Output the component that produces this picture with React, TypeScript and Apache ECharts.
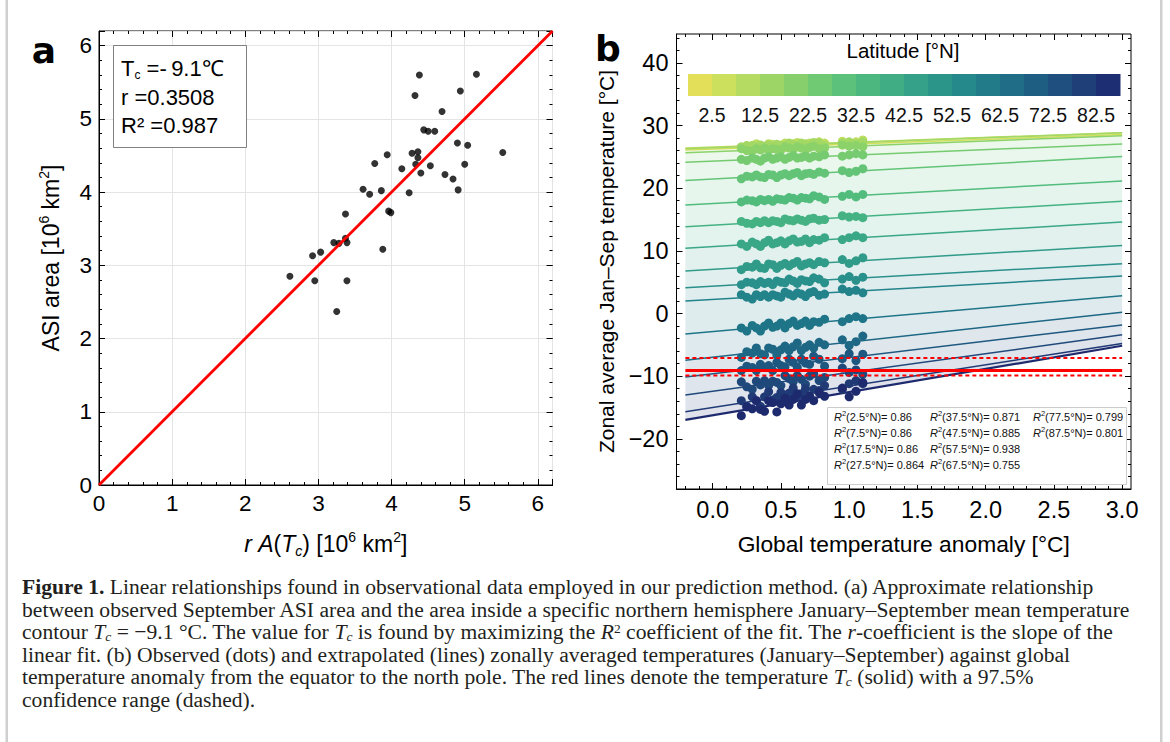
import React, { useEffect, useRef } from "react";
import * as echarts from "echarts";

// ---------- Panel a data ----------
const asiX = [2.61, 2.95, 2.92, 3.03, 3.25, 3.21, 3.28, 3.37, 3.39, 3.39, 3.37, 3.61, 3.70, 3.86, 3.77, 3.94, 3.96, 3.99, 3.88, 4.14, 4.24, 4.28, 4.36, 4.36, 4.33, 4.40, 4.53, 4.32, 4.38, 4.44, 4.50, 4.59, 4.69, 4.94, 5.16, 4.90, 5.04, 5.00, 4.73, 4.84, 4.91, 5.52];
const asiY = [2.85, 2.79, 3.13, 3.18, 2.37, 3.31, 3.30, 3.37, 3.31, 2.79, 3.70, 4.04, 3.97, 4.02, 4.39, 4.51, 3.74, 3.72, 3.22, 4.32, 3.99, 4.53, 4.55, 4.47, 4.38, 4.26, 4.36, 5.32, 5.60, 4.85, 4.83, 4.83, 5.10, 5.38, 5.61, 4.67, 4.64, 4.38, 4.24, 4.18, 4.03, 4.54];
const fitAX = [0, 6.2];
const fitAY = [0, 6.2];

// ---------- Panel b data ----------
const latitudes = [2.5, 7.5, 12.5, 17.5, 22.5, 27.5, 32.5, 37.5, 42.5, 47.5, 52.5, 57.5, 62.5, 67.5, 72.5, 77.5, 82.5, 87.5];
const globalAnomaly = [0.21, 0.25, 0.29, 0.32, 0.35, 0.38, 0.41, 0.44, 0.47, 0.50, 0.53, 0.56, 0.59, 0.62, 0.65, 0.68, 0.71, 0.74, 0.78, 0.82, 0.95, 1.00, 1.05, 1.10];
const zonal02 = [26.5, 26.2, 26.7, 26.5, 26.2, 26.6, 26.9, 26.5, 26.6, 26.8, 26.5, 26.8, 27.0, 26.6, 26.8, 27.0, 26.6, 26.9, 26.9, 27.1, 26.9, 27.1, 27.3, 27.1];
const zonal07 = [26.5, 26.8, 26.8, 27.1, 26.7, 26.6, 27.1, 27.0, 26.6, 26.9, 27.2, 26.9, 27.1, 27.3, 26.9, 27.1, 27.2, 27.0, 27.4, 27.2, 27.5, 27.1, 27.4, 27.7];
const zonal12 = [26.6, 26.8, 26.8, 26.6, 26.9, 26.7, 26.9, 26.6, 27.0, 26.8, 26.8, 27.2, 27.0, 26.7, 27.2, 27.0, 26.9, 27.3, 27.2, 26.8, 27.2, 27.4, 27.1, 27.4];
const zonal17 = [26.3, 26.0, 25.9, 26.3, 26.1, 26.4, 26.1, 26.3, 26.2, 26.1, 26.6, 26.4, 26.2, 26.6, 26.4, 26.1, 26.5, 26.7, 26.3, 26.4, 26.9, 26.7, 26.8, 26.6];
const zonal22 = [24.6, 24.4, 24.8, 24.6, 24.3, 24.8, 25.0, 24.6, 24.8, 25.0, 24.6, 24.9, 25.2, 24.8, 24.9, 25.1, 24.8, 25.1, 25.0, 25.3, 25.1, 25.3, 25.5, 25.3];
const zonal27 = [21.5, 21.9, 21.8, 22.1, 21.8, 21.7, 22.2, 22.1, 21.7, 22.1, 22.3, 22.0, 22.3, 22.5, 22.0, 22.3, 22.4, 22.2, 22.6, 22.4, 22.8, 22.5, 22.7, 23.1];
const zonal32 = [17.8, 18.1, 18.0, 17.8, 18.2, 18.0, 18.2, 17.9, 18.3, 18.2, 18.1, 18.5, 18.4, 18.1, 18.5, 18.4, 18.3, 18.8, 18.6, 18.2, 18.7, 19.0, 18.6, 19.0];
const zonal37 = [14.7, 14.4, 14.3, 14.7, 14.5, 14.8, 14.5, 14.8, 14.7, 14.5, 15.1, 14.9, 14.8, 15.1, 14.9, 14.7, 15.1, 15.2, 14.9, 15.0, 15.6, 15.4, 15.5, 15.3];
const zonal42 = [11.1, 10.7, 11.4, 11.1, 10.7, 11.3, 11.7, 11.1, 11.3, 11.6, 11.1, 11.6, 11.9, 11.4, 11.5, 11.9, 11.3, 11.8, 11.7, 12.1, 11.8, 12.1, 12.4, 12.1];
const zonal47 = [7.0, 7.5, 7.4, 7.9, 7.3, 7.2, 7.9, 7.8, 7.2, 7.7, 8.0, 7.6, 8.0, 8.3, 7.6, 7.9, 8.1, 7.8, 8.3, 8.1, 8.6, 8.0, 8.4, 8.9];
const zonal52 = [4.6, 5.0, 4.9, 4.6, 5.1, 4.8, 5.0, 4.6, 5.2, 5.0, 4.9, 5.5, 5.2, 4.8, 5.4, 5.2, 5.1, 5.7, 5.5, 4.9, 5.5, 5.9, 5.3, 5.8];
const zonal57 = [3.0, 2.6, 2.3, 3.0, 2.7, 3.0, 2.6, 3.0, 2.8, 2.6, 3.4, 3.1, 2.8, 3.3, 3.1, 2.7, 3.3, 3.5, 2.9, 3.1, 3.9, 3.5, 3.7, 3.3];
const zonal62 = [-2.3, -2.8, -1.9, -2.3, -2.8, -2.0, -1.5, -2.2, -2.0, -1.5, -2.3, -1.6, -1.2, -1.9, -1.6, -1.2, -1.9, -1.3, -1.4, -0.9, -1.3, -0.8, -0.5, -0.8];
const zonal67 = [-7.0, -6.1, -6.3, -5.5, -6.4, -6.6, -5.5, -5.7, -6.6, -5.8, -5.2, -5.9, -5.3, -4.7, -5.9, -5.4, -5.0, -5.5, -4.6, -5.0, -4.2, -5.1, -4.5, -3.6];
const zonal72 = [-9.1, -8.4, -8.6, -9.1, -8.1, -8.6, -8.3, -9.1, -7.8, -8.3, -8.5, -7.3, -7.8, -8.6, -7.3, -7.9, -8.1, -6.8, -7.3, -8.4, -7.2, -6.4, -7.5, -6.5];
const zonal77 = [-10.9, -11.7, -12.1, -10.8, -11.4, -10.7, -11.5, -10.8, -11.0, -11.5, -9.9, -10.4, -10.9, -9.9, -10.5, -11.3, -10.0, -9.6, -10.7, -10.2, -8.7, -9.4, -9.0, -9.7];
const zonal82 = [-13.9, -14.8, -13.3, -13.9, -14.8, -13.3, -12.5, -13.8, -13.4, -12.6, -13.9, -12.7, -11.9, -13.2, -12.8, -12.0, -13.3, -12.1, -12.3, -11.5, -12.1, -11.2, -10.7, -11.2];
const zonal87 = [-16.3, -14.9, -15.2, -13.9, -15.3, -15.6, -13.9, -14.2, -15.7, -14.4, -13.5, -14.6, -13.7, -12.8, -14.6, -13.7, -13.2, -13.9, -12.6, -13.2, -11.9, -13.3, -12.4, -11.0];
const zonalTemps = [zonal02, zonal07, zonal12, zonal17, zonal22, zonal27, zonal32, zonal37, zonal42, zonal47, zonal52, zonal57, zonal62, zonal67, zonal72, zonal77, zonal82, zonal87];
const fitIntercept = [26.25, 26.55, 26.44, 25.83, 24.32, 21.46, 17.56, 14.10, 10.69, 7.05, 4.36, 2.25, -2.88, -6.98, -9.62, -12.40, -14.98, -16.24];
const fitSlope = [0.77, 0.77, 0.80, 0.85, 0.91, 1.20, 1.20, 1.27, 1.30, 1.27, 1.20, 1.25, 1.90, 2.40, 2.60, 3.00, 3.40, 3.70];
const fitDomain = [-0.2, 3.0];
const tcValue = -9.1;
const tcConfidence = [-7.1, -9.9];
const r2Latitudes = ["2.5", "7.5", "17.5", "27.5", "37.5", "47.5", "57.5", "67.5", "77.5", "87.5"];
const r2Values = ["0.86", "0.86", "0.86", "0.864", "0.871", "0.885", "0.938", "0.755", "0.799", "0.801"];

// ---------- Tick values ----------
const bXMajor = [0, 0.5, 1, 1.5, 2, 2.5, 3];
const bXMinor = [-0.2, -0.1, 0, 0.1, 0.2, 0.3, 0.4, 0.5, 0.6, 0.7, 0.8, 0.9, 1, 1.1, 1.2, 1.3, 1.4, 1.5, 1.6, 1.7, 1.8, 1.9, 2, 2.1, 2.2, 2.3, 2.4, 2.5, 2.6, 2.7, 2.8, 2.9, 3];
const bYMajor = [-20, -10, 0, 10, 20, 30, 40];
const bYMinor = [-28, -26, -24, -22, -20, -18, -16, -14, -12, -10, -8, -6, -4, -2, 0, 2, 4, 6, 8, 10, 12, 14, 16, 18, 20, 22, 24, 26, 28, 30, 32, 34, 36, 38, 40, 42, 44];
const cbCenters = [0, 5, 10, 15, 20, 25, 30, 35, 40, 45, 50, 55, 60, 65, 70, 75, 80, 85];
const cbTicks = [2.5, 12.5, 22.5, 32.5, 42.5, 52.5, 62.5, 72.5, 82.5];

// ---------- Colours ----------
const cbColors = ["#e3df58", "#cde05e", "#b5db62", "#9dd567", "#86cf6c", "#70c973", "#5cc17a", "#4cb880", "#40ad85", "#35a188", "#2c958a", "#25888a", "#217b89", "#1f6d87", "#1f5e83", "#1f4f7e", "#1f3f78", "#1e2e72"];
const latColors = ["#d2df5c", "#bcdd60", "#a3d865", "#8cd26a", "#76cb70", "#63c477", "#52bc7d", "#45b283", "#3aa787", "#319b89", "#29908b", "#23838a", "#1f7588", "#1e6785", "#1e5880", "#1f497b", "#1f3a75", "#1e2a6e"];

const FONT = "'Liberation Sans', Arial, Helvetica, sans-serif";
const SERIF = "'Liberation Serif', 'Times New Roman', serif";

function rgba(hex: string, a: number) {
  const n = parseInt(hex.slice(1), 16);
  return `rgba(${(n >> 16) & 255},${(n >> 8) & 255},${n & 255},${a})`;
}

function mkAxis(o: any) {
  const tick: any = { show: true, inside: true, length: o.len, lineStyle: { color: "#000", width: 1 } };
  if (o.custom) tick.customValues = o.custom;
  let label: any = { show: false };
  if (o.labels) {
    label = { show: true, color: "#000", fontFamily: FONT, ...o.labels };
    if (o.custom) label.customValues = o.custom;
  }
  return {
    type: "value",
    gridIndex: o.grid,
    position: o.pos,
    min: o.min,
    max: o.max,
    ...(o.interval !== undefined ? { interval: o.interval } : {}),
    axisLine: { show: !!o.line, onZero: false, lineStyle: { color: "#000", width: 1 } },
    axisTick: tick,
    minorTick: { show: false },
    axisLabel: label,
    splitLine: { show: !!o.split, lineStyle: { color: "#e4e4e4", width: 1 } },
    nameMoveOverlap: false,
    ...(o.name || {}),
  };
}

const isInt = (v: number) => Math.abs(v - Math.round(v)) < 1e-6;

function buildOption() {
  const lineAt = (k: number, x: number) => fitIntercept[k] + fitSlope[k] * x;
  const supStyle = (fs: number) => ({ fontSize: fs, fontFamily: FONT, color: "#000", verticalAlign: "top", lineHeight: fs });
  const subStyle = (fs: number) => ({ fontSize: fs, fontFamily: FONT, color: "#000", fontStyle: "italic", verticalAlign: "bottom", lineHeight: fs });

  const xAxis = [
    mkAxis({
      grid: 0, pos: "bottom", min: 0, max: 6.2, interval: 1, len: 6, line: true, split: true,
      labels: { fontSize: 22.5, margin: 7, formatter: (v: number) => (isInt(v) ? String(Math.round(v)) : "") },
      name: {
        name: "{i|r} {i|A}({i|T}{sub|c}) [10{sup|6} km{sup|2}]",
        nameLocation: "middle", nameGap: 45,
        nameTextStyle: {
          fontSize: 23, fontFamily: FONT, color: "#000", lineHeight: 28,
          rich: { i: { fontSize: 23, fontFamily: FONT, color: "#000", fontStyle: "italic" }, sub: subStyle(14), sup: supStyle(14) },
        },
      },
    }),
    mkAxis({ grid: 0, pos: "bottom", min: 0, max: 6.2, interval: 0.2, len: 3 }),
    mkAxis({ grid: 0, pos: "top", min: 0, max: 6.2, interval: 1, len: 6 }),
    mkAxis({ grid: 0, pos: "top", min: 0, max: 6.2, interval: 0.2, len: 3 }),
    mkAxis({
      grid: 1, pos: "bottom", min: -0.265, max: 3.065, custom: bXMajor, len: 6, line: true,
      labels: { fontSize: 23.5, margin: 9, formatter: (v: number) => v.toFixed(1) },
      name: {
        name: "Global temperature anomaly [°C]",
        nameLocation: "middle", nameGap: 43,
        nameTextStyle: { fontSize: 22.8, fontFamily: FONT, color: "#000" },
      },
    }),
    mkAxis({ grid: 1, pos: "bottom", min: -0.265, max: 3.065, custom: bXMinor, len: 3 }),
    mkAxis({ grid: 1, pos: "top", min: -0.265, max: 3.065, custom: bXMajor, len: 6 }),
    mkAxis({ grid: 1, pos: "top", min: -0.265, max: 3.065, custom: bXMinor, len: 3 }),
    {
      type: "value", gridIndex: 2, position: "bottom", min: -2.5, max: 87.5,
      axisLine: { show: false, onZero: false }, axisTick: { show: false }, splitLine: { show: false },
      axisLabel: { show: true, customValues: cbTicks, fontSize: 19.5, fontFamily: FONT, color: "#111", margin: 9, formatter: (v: number) => v.toFixed(1) },
    },
  ];

  const yAxis = [
    mkAxis({
      grid: 0, pos: "left", min: 0, max: 6.2, interval: 1, len: 6, line: true, split: true,
      labels: { fontSize: 22.5, margin: 7, formatter: (v: number) => (isInt(v) ? String(Math.round(v)) : "") },
      name: {
        name: "ASI area [10{sup|6} km{sup|2}]",
        nameLocation: "middle", nameGap: 34,
        nameTextStyle: { fontSize: 23, fontFamily: FONT, color: "#000", lineHeight: 28, rich: { sup: supStyle(14) } },
      },
    }),
    mkAxis({ grid: 0, pos: "left", min: 0, max: 6.2, interval: 0.2, len: 3 }),
    mkAxis({ grid: 0, pos: "right", min: 0, max: 6.2, interval: 1, len: 6 }),
    mkAxis({ grid: 0, pos: "right", min: 0, max: 6.2, interval: 0.2, len: 3 }),
    mkAxis({
      grid: 1, pos: "left", min: -28, max: 44.6, custom: bYMajor, len: 6, line: true,
      labels: { fontSize: 23.5, margin: 8, formatter: (v: number) => String(v).replace("-", "\u2212") },
      name: {
        name: "Zonal average Jan\u2013Sep temperature [°C]",
        nameLocation: "middle", nameGap: 60,
        nameTextStyle: { fontSize: 21, fontFamily: FONT, color: "#000" },
      },
    }),
    mkAxis({ grid: 1, pos: "left", min: -28, max: 44.6, custom: bYMinor, len: 3 }),
    mkAxis({ grid: 1, pos: "right", min: -28, max: 44.6, custom: bYMajor, len: 6 }),
    mkAxis({ grid: 1, pos: "right", min: -28, max: 44.6, custom: bYMinor, len: 3 }),
    { type: "value", gridIndex: 2, min: 0, max: 1, show: false },
  ];

  const series: any[] = [];

  // Panel a
  series.push({
    type: "scatter", xAxisIndex: 0, yAxisIndex: 0, symbolSize: 7, z: 3,
    itemStyle: { color: "#000" },
    data: asiX.map((x, i) => [x, asiY[i]]),
  });
  series.push({
    type: "line", xAxisIndex: 0, yAxisIndex: 0, symbol: "none", z: 4,
    lineStyle: { color: "#ff0000", width: 2.8 },
    data: fitAX.map((x, i) => [x, fitAY[i]]),
  });

  // Panel b: shaded bands between adjacent fitted lines
  series.push({
    type: "custom", xAxisIndex: 4, yAxisIndex: 4, z: 1,
    data: latitudes.slice(0, -1).map((_, i) => ({ value: [1, 0, i] })),
    renderItem: (_p: any, api: any) => {
      const i = api.value(2);
      const x0 = fitDomain[0];
      const x1 = fitDomain[1];
      const pts = [
        api.coord([x0, lineAt(i, x0)]),
        api.coord([x1, lineAt(i, x1)]),
        api.coord([x1, lineAt(i + 1, x1)]),
        api.coord([x0, lineAt(i + 1, x0)]),
      ];
      return { type: "polygon", shape: { points: pts }, style: { fill: rgba(latColors[i + 1], 0.14) } };
    },
  });

  latitudes.forEach((_, k) => {
    series.push({
      type: "line", xAxisIndex: 4, yAxisIndex: 4, symbol: "none", z: 2,
      lineStyle: { color: latColors[k], width: k === latitudes.length - 1 ? 2.2 : 1.5 },
      data: fitDomain.map((x) => [x, lineAt(k, x)]),
    });
  });
  latitudes.forEach((_, k) => {
    series.push({
      type: "scatter", xAxisIndex: 4, yAxisIndex: 4, symbolSize: 9, z: 3,
      itemStyle: { color: latColors[k], opacity: 1 },
      data: globalAnomaly.map((x, j) => [x, zonalTemps[k][j]]),
    });
  });
  series.push({
    type: "line", xAxisIndex: 4, yAxisIndex: 4, symbol: "none", z: 5,
    lineStyle: { color: "#ff0000", width: 3 },
    data: fitDomain.map((x) => [x, tcValue]),
  });
  tcConfidence.forEach((t) => {
    series.push({
      type: "line", xAxisIndex: 4, yAxisIndex: 4, symbol: "none", z: 5,
      lineStyle: { color: "#ff0000", width: 2, type: [4, 3] },
      data: fitDomain.map((x) => [x, t]),
    });
  });

  // Colour bar
  series.push({
    type: "custom", xAxisIndex: 8, yAxisIndex: 8, z: 2,
    data: cbCenters.map((c, i) => ({ value: [c, 0.5, i] })),
    renderItem: (_p: any, api: any) => {
      const c = api.value(0);
      const i = api.value(2);
      const p0 = api.coord([c - 2.5, 1]);
      const p1 = api.coord([c + 2.5, 0]);
      return {
        type: "rect",
        shape: { x: p0[0], y: p0[1], width: p1[0] - p0[0] + 0.5, height: p1[1] - p0[1] },
        style: { fill: cbColors[i] },
      };
    },
  });

  // Graphic elements
  const capBase = { fontSize: 21.6, fontFamily: SERIF, fill: "#231f20" };
  const capRich = {
    b: { ...capBase, fontWeight: "bold" },
    i: { ...capBase, fontStyle: "italic" },
    isub: { fontSize: 13.5, fontFamily: SERIF, fill: "#231f20", fontStyle: "italic", verticalAlign: "bottom", lineHeight: 13.5 },
    sup: { fontSize: 13.5, fontFamily: SERIF, fill: "#231f20", verticalAlign: "top", lineHeight: 13.5 },
  };
  const captionLines = [
    "{b|Figure 1.} Linear relationships found in observational data employed in our prediction method. (a) Approximate relationship",
    "between observed September ASI area and the area inside a specific northern hemisphere January\u2013September mean temperature",
    "contour {i|T}{isub|c} = \u22129.1 °C. The value for {i|T}{isub|c} is found by maximizing the {i|R}{sup|2} coefficient of the fit. The {i|r}-coefficient is the slope of the",
    "linear fit. (b) Observed (dots) and extrapolated (lines) zonally averaged temperatures (January\u2013September) against global",
    "temperature anomaly from the equator to the north pole. The red lines denote the temperature {i|T}{isub|c} (solid) with a 97.5%",
    "confidence range (dashed).",
  ];

  const boxFont = { fontSize: 22, fontFamily: FONT, fill: "#000" };
  const r2Font = { fontSize: 11, fontFamily: FONT, fill: "#111" };
  const graphic: any[] = [
    { type: "rect", silent: true, z: 1, shape: { x: 5.5, y: 0, width: 2.5, height: 742 }, style: { fill: "#cfcfcf" } },
    { type: "rect", silent: true, z: 1, shape: { x: 1160, y: 0, width: 2.5, height: 742 }, style: { fill: "#cfcfcf" } },
    { type: "text", silent: true, z: 20, x: 44, y: 50, style: { text: "a", fontSize: 36, fontWeight: "bold", fontFamily: "'DejaVu Sans', sans-serif", fill: "#000", align: "center", verticalAlign: "middle" } },
    { type: "text", silent: true, z: 20, x: 608, y: 48, style: { text: "b", fontSize: 36, fontWeight: "bold", fontFamily: "'DejaVu Sans', sans-serif", fill: "#000", align: "center", verticalAlign: "middle" } },
    { type: "rect", silent: true, z: 20, shape: { x: 113.5, y: 45.5, width: 133, height: 102 }, style: { fill: "#fff", stroke: "#808080", lineWidth: 1 } },
    {
      type: "text", silent: true, z: 21, x: 121, y: 68,
      style: { text: "T{sub|c} =-\u20099.1\u2103", ...boxFont, verticalAlign: "middle", lineHeight: 26, rich: { sub: { fontSize: 12, fontFamily: FONT, fill: "#000", verticalAlign: "bottom", lineHeight: 12 } } },
    },
    { type: "text", silent: true, z: 21, x: 121, y: 97, style: { text: "r =0.3508", ...boxFont, verticalAlign: "middle" } },
    { type: "text", silent: true, z: 21, x: 121, y: 125, style: { text: "R\u00b2 =0.987", ...boxFont, verticalAlign: "middle" } },
    { type: "text", silent: true, z: 20, x: 903, y: 50, style: { text: "Latitude [°N]", fontSize: 20.5, fontFamily: FONT, fill: "#000", align: "center", verticalAlign: "middle" } },
    { type: "rect", silent: true, z: 20, shape: { x: 827.5, y: 407.5, width: 299, height: 77 }, style: { fill: "#fff", stroke: "#cccccc", lineWidth: 1 } },
  ];
  const colX = [834, 930, 1033];
  const rowY = [417, 433, 449, 464.5];
  r2Latitudes.forEach((lat, i) => {
    const col = i < 4 ? 0 : i < 8 ? 1 : 2;
    const row = i % 4;
    graphic.push({
      type: "text", silent: true, z: 21, x: colX[col], y: rowY[row],
      style: {
        text: `{i|R}{sup|2}(${lat}°N)= ${r2Values[i]}`,
        ...r2Font, verticalAlign: "middle", lineHeight: 15,
        rich: {
          i: { ...r2Font, fontStyle: "italic" },
          sup: { fontSize: 7.5, fontFamily: FONT, fill: "#111", verticalAlign: "top", lineHeight: 8 },
        },
      },
    });
  });
  const capY = [587, 609.5, 632, 654.5, 677, 699.5];
  captionLines.forEach((t, i) => {
    graphic.push({
      type: "text", silent: true, z: 20, x: 22, y: capY[i],
      style: { text: t, ...capBase, verticalAlign: "middle", lineHeight: 22, rich: capRich },
    });
  });

  return {
    animation: false,
    backgroundColor: "#fff",
    textStyle: { fontFamily: FONT, color: "#000" },
    grid: [
      { left: 99, top: 31, width: 453.5, height: 454, show: true, borderColor: "#000", borderWidth: 1, backgroundColor: "transparent", outerBoundsMode: "none", containLabel: false },
      { left: 676.5, top: 34, width: 454.5, height: 455, show: true, borderColor: "#000", borderWidth: 1, backgroundColor: "transparent", outerBoundsMode: "none", containLabel: false },
      { left: 688, top: 74, width: 432, height: 22, show: false, outerBoundsMode: "none", containLabel: false },
    ],
    xAxis,
    yAxis,
    series,
    graphic,
  };
}

export default function App() {
  const ref = useRef<HTMLDivElement>(null);
  useEffect(() => {
    const chart = echarts.init(ref.current!, null, { renderer: "svg" });
    chart.setOption(buildOption() as any);
    return () => chart.dispose();
  }, []);
  return (
    <div
      ref={ref}
      style={{ position: "absolute", left: 0, top: 0, width: 1170, height: 742, background: "#fff" }}
    />
  );
}
